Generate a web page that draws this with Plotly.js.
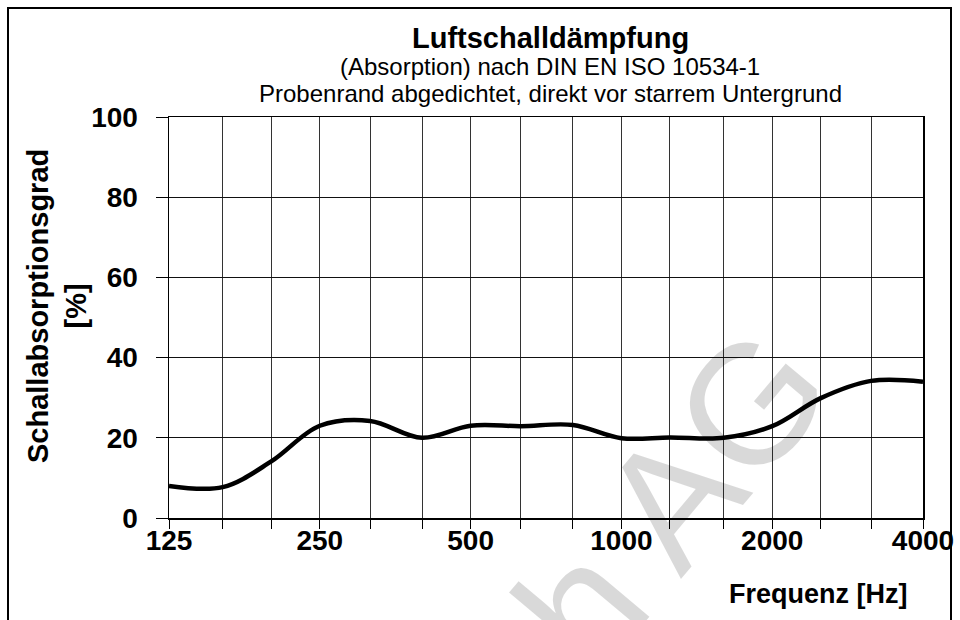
<!DOCTYPE html>
<html>
<head>
<meta charset="utf-8">
<script src="https://cdn.plot.ly/plotly-3.0.1.min.js"></script>
<style>html,body{margin:0;padding:0;background:#fff;}#chart{width:960px;height:620px;}</style>
</head>
<body>
<div id="chart"></div>
<script>
// Third-octave band centre frequencies (Hz)
const frequencies = [125,160,200,250,315,400,500,630,800,1000,1250,1600,2000,2500,3150,4000];
// Sound absorption coefficient [%]
const absorption = [8.0,7.7,14.1,23.0,24.2,20.0,23.0,22.9,23.2,19.9,20.1,20.0,22.9,29.9,34.2,34.0];
// x tick labels (only octave bands are labelled)
const xTickText = ['125','','','250','','','500','','','1000','','','2000','','','4000'];
const yTickVals = [0,20,40,60,80,100];

const titleText = 'Luftschalldämpfung';
const subtitle1 = '(Absorption) nach DIN EN ISO 10534-1';
const subtitle2 = 'Probenrand abgedichtet, direkt vor starrem Untergrund';
const xTitle = 'Frequenz [Hz]';
const yTitle1 = 'Schallabsorptionsgrad';
const yTitle2 = '[%]';
const watermark = 'h AG';

const W = 960, H = 620;
const M = {l:169, r:37, t:117, b:102};
const pw = W - M.l - M.r, ph = H - M.t - M.b;
const px = x => (x - M.l) / pw;
const py = y => (H - M.b - y) / ph;
const FONT = '"Liberation Sans", Arial, sans-serif';

const trace = {
  x: frequencies, y: absorption, type: 'scatter', mode: 'lines',
  line: {color: '#000', width: 4.5, shape: 'spline', smoothing: 1},
  hoverinfo: 'skip', showlegend: false
};

const layout = {
  width: W, height: H,
  margin: {l: M.l, r: M.r, t: M.t, b: M.b, pad: 0},
  paper_bgcolor: '#fff', plot_bgcolor: '#fff',
  font: {family: FONT, color: '#000'},
  showlegend: false,
  xaxis: {
    type: 'log',
    range: [Math.log10(125), Math.log10(4000)],
    tickmode: 'array', tickvals: frequencies, ticktext: xTickText,
    ticks: 'outside', ticklen: 9, tickwidth: 1, tickcolor: '#000',
    tickfont: {family: FONT, size: 28, color: '#000', weight: 'bold'},
    ticklabelstandoff: -12,
    showgrid: true, gridcolor: '#333', gridwidth: 1,
    showline: true, linecolor: '#000', linewidth: 1.5, mirror: true,
    zeroline: false, fixedrange: true
  },
  yaxis: {
    range: [0, 100],
    tickmode: 'array', tickvals: yTickVals,
    ticks: 'outside', ticklen: 12, tickwidth: 1, tickcolor: '#000',
    tickfont: {family: FONT, size: 28, color: '#000', weight: 'bold'},
    ticklabelstandoff: 12,
    showgrid: true, gridcolor: '#111', gridwidth: 1,
    showline: true, linecolor: '#000', linewidth: 1.5, mirror: true,
    zeroline: false, fixedrange: true
  },
  shapes: [{
    type: 'rect', xref: 'paper', yref: 'paper',
    x0: px(8), x1: px(951), y0: py(8), y1: py(660),
    line: {color: '#000', width: 2}, fillcolor: 'rgba(0,0,0,0)', layer: 'above'
  }],
  annotations: [
    {text: '<b>' + titleText + '</b>', xref: 'paper', yref: 'paper', x: px(550), y: py(38),
     xanchor: 'center', yanchor: 'middle', showarrow: false, font: {family: FONT, size: 29, color: '#000'}},
    {text: subtitle1, xref: 'paper', yref: 'paper', x: px(550), y: py(66),
     xanchor: 'center', yanchor: 'middle', showarrow: false, font: {family: FONT, size: 24, color: '#000'}},
    {text: subtitle2, xref: 'paper', yref: 'paper', x: px(550), y: py(94),
     xanchor: 'center', yanchor: 'middle', showarrow: false, font: {family: FONT, size: 24, color: '#000'}},
    {text: '<b>' + xTitle + '</b>', xref: 'paper', yref: 'paper', x: px(910), y: py(594),
     xanchor: 'right', yanchor: 'middle', showarrow: false, font: {family: FONT, size: 27, color: '#000'}},
    {text: '<b>' + yTitle1 + '</b><br><b>' + yTitle2 + '</b>', xref: 'paper', yref: 'paper', x: px(57), y: py(306),
     xanchor: 'center', yanchor: 'middle', textangle: -90, showarrow: false, font: {family: FONT, size: 29, color: '#000'}},
    {text: watermark, xref: 'paper', yref: 'paper', x: px(672), y: py(498),
     xanchor: 'center', yanchor: 'middle', textangle: -50, showarrow: false,
     font: {family: FONT, size: 170, color: 'rgba(0,0,0,0.15)'}}
  ]
};

Plotly.newPlot('chart', [trace], layout, {staticPlot: true, displayModeBar: false});
</script>
</body>
</html>
